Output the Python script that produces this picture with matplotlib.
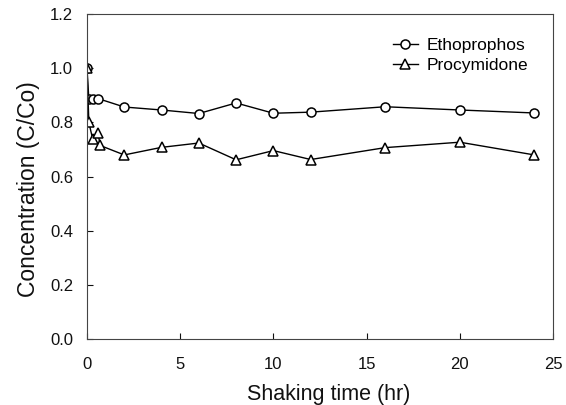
import numpy as np
import matplotlib
matplotlib.use('Agg')
import matplotlib.pyplot as plt

plt.rcParams['font.family'] = ['Liberation Sans', 'DejaVu Sans']

# shaking time (hr) and C/Co values
time_etho = [0, 0.1, 0.3, 0.6, 2, 4, 6, 8, 10, 12, 16, 20, 24]
etho = [1.0, 0.885, 0.885, 0.888, 0.857, 0.846, 0.833, 0.872, 0.834, 0.838, 0.858, 0.846, 0.835]

time_procy = [0, 0.1, 0.3, 0.6, 0.7, 2, 4, 6, 8, 10, 12, 16, 20, 24]
procy = [1.0, 0.80, 0.74, 0.76, 0.715, 0.68, 0.708, 0.724, 0.662, 0.696, 0.663, 0.707, 0.727, 0.680]

fig = plt.figure(figsize=(5.66, 4.05), dpi=100)
ax = fig.add_axes([0.1537, 0.163, 0.8233, 0.802])

ax.plot(time_etho, etho, color='black', lw=1.0, marker='o', ms=6.5,
        mfc='white', mec='black', mew=1.1, label='Ethoprophos')
ax.plot(time_procy, procy, color='black', lw=1.0, marker='^', ms=6.5,
        mfc='white', mec='black', mew=1.1, label='Procymidone')

ax.set_xlim(0, 25)
ax.set_ylim(0, 1.2)
ax.set_xticks(np.arange(0, 26, 5))
ax.set_yticks(np.arange(0, 1.21, 0.2))
ax.set_yticklabels([f'{v:.1f}' for v in np.arange(0, 1.21, 0.2)])
ax.tick_params(direction='in', length=4, width=0.8, labelsize=12, colors='#111111')
ax.tick_params(axis='x', pad=13)
ax.tick_params(axis='y', pad=10)
for s in ax.spines.values():
    s.set_linewidth(0.8)
    s.set_color('#444444')

ax.set_xlabel('Shaking time (hr)', fontsize=15.5, color='#111111')
ax.set_ylabel('Concentration (C/Co)', fontsize=16.5, color='#111111')
ax.xaxis.set_label_coords(0.519, -0.14)
ax.yaxis.set_label_coords(-0.10, 0.46)

ax.legend(loc='upper right', frameon=False, fontsize=12.5, handlelength=1.45,
          handletextpad=0.5, labelspacing=0.3, bbox_to_anchor=(0.98, 0.975))

fig.savefig('out.png', dpi=100)
